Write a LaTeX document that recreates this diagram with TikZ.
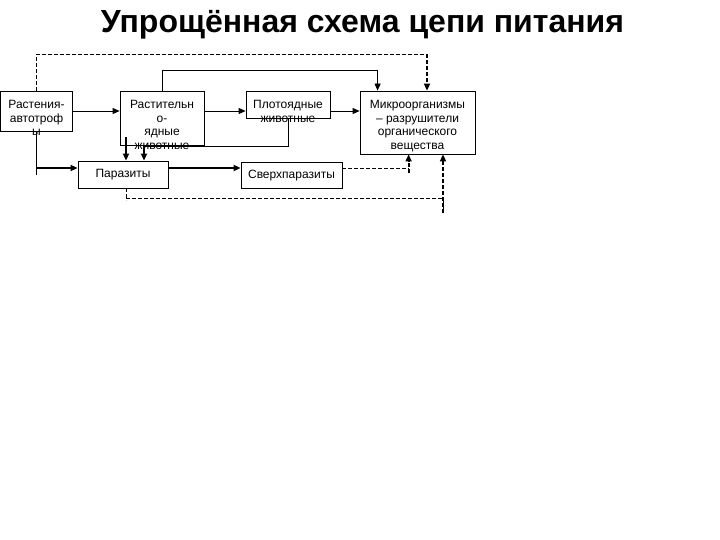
\documentclass[tikz,border=0pt]{standalone}
\usepackage{fontspec}
\setmainfont{Liberation Sans}
\usetikzlibrary{arrows.meta,calc}
\begin{document}
\begin{tikzpicture}[x=1pt,y=-1pt,
  box/.style={draw, line width=0.8pt, inner sep=0pt, fill=none},
  lbl/.style={anchor=north, align=center, font=\fontsize{12}{13.6}\selectfont, inner sep=0pt},
  ln/.style={line width=0.8pt},
  thk/.style={line width=1.6pt},
  arr/.style={-{Triangle[length=7pt,width=6pt]}},
  dsh/.style={line width=0.8pt, dash pattern=on 4pt off 2pt},
  tdsh/.style={line width=1.8pt, dash pattern=on 4pt off 2pt}]
\useasboundingbox (0,0) rectangle (720,540);
\fill[white] (0,0) rectangle (720,540);

\node[font=\fontsize{32}{36}\selectfont\bfseries, anchor=base, inner sep=0pt] (title) at (362.5,33) {Упрощённая схема цепи питания};

% boxes
\node[box, minimum width=72pt, minimum height=40pt] (A) at (36.5,111) {};
\node[lbl] (At) at ([yshift=-9.5pt]A.north) {Растения-\\автотроф\\ы};
\node[box, minimum width=84pt, minimum height=54pt] (B) at (162,118) {};
\node[lbl] (Bt) at ([yshift=-9.5pt]B.north) {Растительн\\о-\\ядные\\животные};
\node[box, minimum width=84pt, minimum height=27pt] (C) at (288,104.5) {};
\node[lbl] (Ct) at ([yshift=-9.5pt]C.north) {Плотоядные\\животные};
\node[box, minimum width=115pt, minimum height=63pt] (D) at (417.5,122.5) {};
\node[lbl] (Dt) at ([yshift=-9.5pt]D.north) {Микроорганизмы\\– разрушители\\органического\\вещества};
\node[box, minimum width=90pt, minimum height=27pt] (E) at (123,174.5) {};
\node[lbl, anchor=center] (Et) at ([yshift=-0.5pt]E.center) {Паразиты};
\node[box, minimum width=101pt, minimum height=26pt] (F) at (291.5,175) {};
\node[lbl, anchor=center] (Ft) at ([yshift=-0.5pt]F.center) {Сверхпаразиты};

% helper points
\coordinate (r1) at (0,111);
\coordinate (r2) at (0,168);
\coordinate (dtop) at (427,54);
\coordinate (dbot) at (443,213);
\coordinate (dmid) at ([xshift=49pt]D.south west);
\coordinate (dmidlow) at ([yshift=-5pt]dmid |- r2);

% main chain
\draw[ln, arr] (r1 -| A.east) -- (r1 -| B.west);
\draw[ln, arr] (r1 -| B.east) -- (r1 -| C.west);
\draw[ln, arr] (r1 -| C.east) -- (r1 -| D.west);

% herbivores -> microorganisms (top)
\draw[ln, arr] (B.north) -- ++(0,-20) -| ([xshift=18pt]D.north west);

% plants -> microorganisms (dashed top)
\draw[dsh] (A.north) |- (dtop);
\draw[tdsh, arr] (dtop) -- (dtop |- D.north);

% plants -> parasites
\draw[ln] (A.south) -- ([yshift=-44pt]A.south);
\draw[thk, arr] (r2 -| A.south) -- (r2 -| E.west);

% herbivores -> parasites
\draw[thk, arr] ([xshift=3pt,yshift=8pt]E.north |- B.south) -- ([xshift=3pt]E.north);

% carnivores -> parasites
\draw[ln] (C.south) -- ++(0,28) -| ([xshift=21pt]E.north |- B.south);
\draw[thk, arr] ([xshift=21pt]E.north |- B.south) -- ([xshift=21pt]E.north);

% parasites -> hyperparasites
\draw[thk, arr] (r2 -| E.east) -- (r2 -| F.west);

% hyperparasites -> microorganisms (dashed)
\draw[dsh] (r2 -| F.east) -- (r2 -| dmid);
\draw[tdsh, arr] (dmidlow) -- (dmid);

% parasites -> microorganisms (dashed bottom)
\draw[dsh] ([xshift=3pt]E.south) -- ([xshift=3pt,yshift=-12pt]E.south);
\draw[dsh] ([xshift=3pt,yshift=-10pt]E.south) -| (dbot);
\draw[tdsh, arr] (dbot) -- (dbot |- D.south);
\end{tikzpicture}
\end{document}
